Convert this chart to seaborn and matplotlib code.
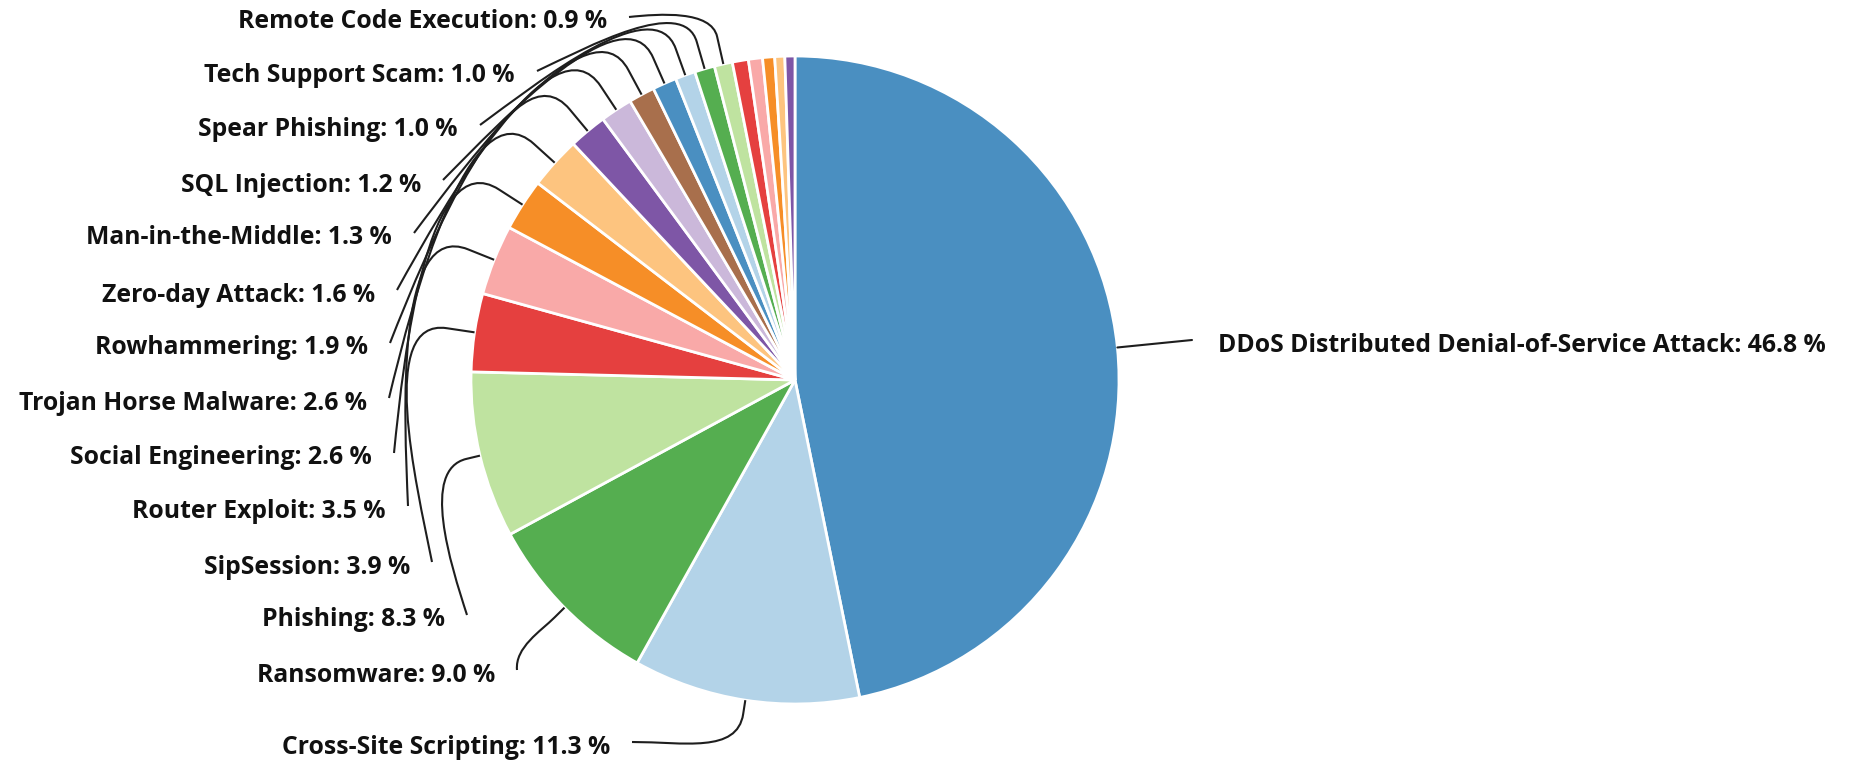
import numpy as np
import matplotlib
matplotlib.use("Agg")
import matplotlib.pyplot as plt
from matplotlib.path import Path
from matplotlib.patches import PathPatch
import seaborn as sns

# ---------------- data ----------------
categories = [
    "DDoS Distributed Denial-of-Service Attack", "Cross-Site Scripting", "Ransomware",
    "Phishing", "SipSession", "Router Exploit", "Social Engineering",
    "Trojan Horse Malware", "Rowhammering", "Zero-day Attack", "Man-in-the-Middle",
    "SQL Injection", "Spear Phishing", "Tech Support Scam", "Remote Code Execution",
    "Other 1", "Other 2", "Other 3", "Other 4", "Other 5",
]
values = [46.8, 11.3, 9.0, 8.3, 3.9, 3.5, 2.6, 2.6, 1.9, 1.6, 1.3, 1.2, 1.0, 1.0, 0.9,
          0.8, 0.7, 0.6, 0.5, 0.5]
labeled = [True] * 15 + [False] * 5
colors = ["#4a8fc1", "#b3d3e8", "#55ae50", "#bfe3a0", "#e5403f", "#f9a9a8",
          "#f68e27", "#fdc47f", "#7e56a6", "#cbb8da", "#a86f4c",
          "#4a8fc1", "#b3d3e8", "#55ae50", "#bfe3a0", "#e5403f", "#f9a9a8",
          "#f68e27", "#fdc47f", "#7e56a6"]

# ---------------- layout (pixels, y from top) ----------------
W, H = 1862, 761
CX, CY, R = 795, 380, 324
label_pos = {
    0: (1218, 345),
    1: (610, 747), 2: (495, 675), 3: (445, 620), 4: (410, 567), 5: (386, 511),
    6: (372, 458), 7: (367, 403), 8: (368, 348), 9: (375, 295), 10: (392, 238),
    11: (421, 185), 12: (458, 130), 13: (515, 76), 14: (607, 22),
}

sns.set_theme(style="white")
plt.rcParams["font.family"] = ["Open Sans", "DejaVu Sans"]

fig = plt.figure(figsize=(W / 100, H / 100), dpi=100)
ax = fig.add_axes([0, 0, 1, 1])

def Y(y):
    return H - y

ax.pie(values, colors=colors, startangle=90, counterclock=False,
       center=(CX, Y(CY)), radius=R,
       wedgeprops=dict(edgecolor="white", linewidth=2))
ax.set_xlim(0, W)
ax.set_ylim(0, H)
ax.set_aspect("equal")
ax.axis("off")

total = sum(values)
cum = np.cumsum([0] + values[:-1])
FS = 17.8
LC = "#1e1e1e"

for i, (name, v) in enumerate(zip(categories, values)):
    if not labeled[i]:
        continue
    ang = np.deg2rad(90 - 360 * (cum[i] + v / 2) / total)
    u = np.array([np.cos(ang), np.sin(ang)])
    c = np.array([CX, Y(CY)])
    p0 = c + u * R
    lx, ly = label_pos[i]
    txt = f"{name}: {v:.1f} %"
    if i == 0:
        e = np.array([lx - 26, Y(ly) + 5])
        ax.plot([p0[0], e[0]], [p0[1], e[1]], color=LC, lw=1.5)
        ax.text(lx, Y(ly), txt, ha="left", va="center", fontsize=FS,
                fontweight="bold", color="#111111")
        continue
    ax.text(lx, Y(ly), txt, ha="right", va="center", fontsize=FS,
            fontweight="bold", color="#111111")
    e = np.array([lx + 22, Y(ly) + 5])
    dout = 28 if v < 5 else 14
    p1 = c + u * (R + dout)
    ve = e - c
    phi = np.arctan2(ve[1], ve[0])
    t = np.array([np.sin(phi), -np.cos(phi)])
    d = p1 - e
    dist = np.linalg.norm(d)
    if ly > CY + 0.95 * R:
        dirn = np.array([1.0, 0.0])
        c1 = p1 + u * (0.35 * dist)
        c2 = e + dirn * (0.45 * dist)
    else:
        dirn = t + d / dist
        dirn = dirn / np.linalg.norm(dirn)
        c1 = p1 + u * (0.3 * dist)
        c2 = e + dirn * (0.35 * dist)
    verts = [tuple(p0), tuple(p1), tuple(c1), tuple(c2), tuple(e)]
    codes = [Path.MOVETO, Path.LINETO, Path.CURVE4, Path.CURVE4, Path.CURVE4]
    ax.add_patch(PathPatch(Path(verts, codes), facecolor="none",
                           edgecolor=LC, lw=1.5))

fig.savefig("out.png", dpi=100, facecolor="white")
